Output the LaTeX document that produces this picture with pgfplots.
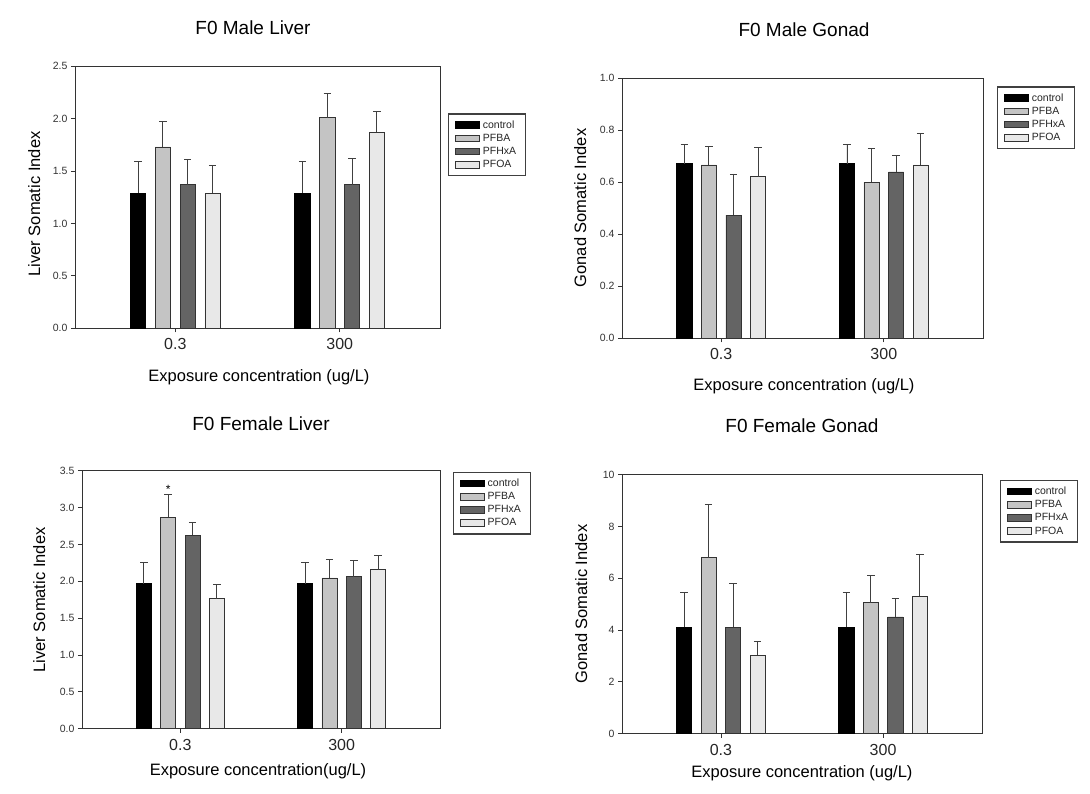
\documentclass[border=0pt]{standalone}
\usepackage{pgfplots}
\pgfplotsset{compat=1.18}
\usepackage{fontspec}
\setmainfont{Liberation Sans}
\definecolor{cPFBA}{HTML}{C4C4C4}
\definecolor{cPFHxA}{HTML}{646464}
\definecolor{cPFOA}{HTML}{E8E8E8}
\definecolor{axisgray}{HTML}{333333}
\pgfplotsset{
  panel/.style={
    scale only axis,
    ybar,
    bar width=0.093,
    xmin=0.39, xmax=2.61,
    ymin=0,
    xtick={1,2},
    xticklabels={0.3,300},
    tick pos=left,
    tick align=outside,
    major tick length=4pt,
    axis line style={axisgray, line width=0.9pt},
    every tick/.style={axisgray, line width=0.8pt},
    yticklabel style={font=\fontsize{10.5}{12}\selectfont, text=black!80},
    xticklabel style={font=\fontsize{16}{18}\selectfont, text=black!85, yshift=-3pt},
    /pgf/number format/assume math mode=true,
    legend cell align=left,
    legend image code/.code={\draw[##1] (0pt,-3.3pt) rectangle (24pt,3.3pt);},
    legend style={draw=black!75, line width=1.2pt, fill=white,
      font=\fontsize{10.5}{12}\selectfont, text=black!85, anchor=north west,
      inner xsep=6.5pt, inner ysep=5pt, row sep=1.4pt,
      nodes={inner xsep=3pt, inner ysep=1.5pt}},
  },
  eb/.style={/pgfplots/error bars/y dir=plus, /pgfplots/error bars/y explicit,
     /pgfplots/error bars/error bar style={color=black!75, line width=0.9pt},
     /pgfplots/error bars/error mark options={rotate=90, color=black!75, line width=0.9pt, mark size=3.7pt}},
  sctl/.style={fill=black, draw=black, line width=0.7pt, bar shift=-0.2265, eb},
  spfba/.style={fill=cPFBA, draw=axisgray, line width=0.7pt, bar shift=-0.0755, eb},
  spfhxa/.style={fill=cPFHxA, draw=axisgray, line width=0.7pt, bar shift=0.0755, eb},
  spfoa/.style={fill=cPFOA, draw=axisgray, line width=0.7pt, bar shift=0.2265, eb},
  fmt1/.style={yticklabel style={/pgf/number format/.cd, fixed, fixed zerofill, precision=1}},
}
\begin{document}
\begin{tikzpicture}
\path[use as bounding box] (0pt,0pt) rectangle (1090pt,794pt);

% ---------- F0 Male Liver ----------
\begin{axis}[panel, fmt1,
  at={(75pt,465.7pt)}, anchor=south west, width=365pt, height=262pt,
  ymax=2.5, ytick={0,0.5,1,1.5,2,2.5},
  legend style={at={(1.022,0.82)}}]
\addplot[sctl] coordinates {(1,1.29) +- (0,0.30) (2,1.29) +- (0,0.30)};
\addplot[spfba] coordinates {(1,1.73) +- (0,0.24) (2,2.01) +- (0,0.23)};
\addplot[spfhxa] coordinates {(1,1.37) +- (0,0.24) (2,1.37) +- (0,0.25)};
\addplot[spfoa] coordinates {(1,1.29) +- (0,0.26) (2,1.87) +- (0,0.20)};
\legend{control,PFBA,PFHxA,PFOA}
\end{axis}
\node[anchor=base, font=\fontsize{19}{22}\selectfont] at (253pt,759pt) {F0 Male Liver};
\node[anchor=base, font=\fontsize{16.5}{19}\selectfont] at (259pt,412pt) {Exposure concentration (ug/L)};
\node[anchor=base, rotate=90, font=\fontsize{16.5}{19}\selectfont] at (40pt,590pt) {Liver Somatic Index};

% ---------- F0 Male Gonad ----------
\begin{axis}[panel, fmt1,
  at={(622pt,455.7pt)}, anchor=south west, width=361pt, height=260pt,
  ymax=1.0, ytick={0,0.2,0.4,0.6,0.8,1.0},
  legend style={at={(1.039,0.969)}}]
\addplot[sctl] coordinates {(1,0.671) +- (0,0.075) (2,0.671) +- (0,0.075)};
\addplot[spfba] coordinates {(1,0.667) +- (0,0.069) (2,0.601) +- (0,0.130)};
\addplot[spfhxa] coordinates {(1,0.474) +- (0,0.158) (2,0.640) +- (0,0.064)};
\addplot[spfoa] coordinates {(1,0.621) +- (0,0.112) (2,0.667) +- (0,0.121)};
\legend{control,PFBA,PFHxA,PFOA}
\end{axis}
\node[anchor=base, font=\fontsize{19}{22}\selectfont] at (804pt,757pt) {F0 Male Gonad};
\node[anchor=base, font=\fontsize{16.5}{19}\selectfont] at (804pt,403pt) {Exposure concentration (ug/L)};
\node[anchor=base, rotate=90, font=\fontsize{16.5}{19}\selectfont] at (586pt,586pt) {Gonad Somatic Index};

% ---------- F0 Female Liver ----------
\begin{axis}[panel, fmt1,
  at={(82pt,65.3pt)}, anchor=south west, width=358pt, height=258pt,
  ymax=3.5, ytick={0,0.5,1,1.5,2,2.5,3,3.5},
  legend style={at={(1.036,0.996)}}]
\addplot[sctl] coordinates {(1,1.965) +- (0,0.289) (2,1.965) +- (0,0.289)};
\addplot[spfba] coordinates {(1,2.870) +- (0,0.308) (2,2.046) +- (0,0.245)};
\addplot[spfhxa] coordinates {(1,2.626) +- (0,0.172) (2,2.064) +- (0,0.218)};
\addplot[spfoa] coordinates {(1,1.766) +- (0,0.190) (2,2.155) +- (0,0.199)};
\legend{control,PFBA,PFHxA,PFOA}
\node[anchor=base, font=\fontsize{12}{14}\selectfont] at (axis cs:0.9245,3.19) {*};
\end{axis}
\node[anchor=base, font=\fontsize{19}{22}\selectfont] at (261pt,363pt) {F0 Female Liver};
\node[anchor=base, font=\fontsize{16.5}{19}\selectfont] at (258pt,18pt) {Exposure concentration(ug/L)};
\node[anchor=base, rotate=90, font=\fontsize{16.5}{19}\selectfont] at (45pt,194pt) {Liver Somatic Index};

% ---------- F0 Female Gonad ----------
\begin{axis}[panel,
  at={(622pt,60.3pt)}, anchor=south west, width=360pt, height=259pt,
  ymax=10, ytick={0,2,4,6,8,10},
  legend style={at={(1.05,0.98)}}]
\addplot[sctl] coordinates {(1,4.11) +- (0,1.33) (2,4.11) +- (0,1.33)};
\addplot[spfba] coordinates {(1,6.79) +- (0,2.07) (2,5.06) +- (0,1.05)};
\addplot[spfhxa] coordinates {(1,4.11) +- (0,1.70) (2,4.51) +- (0,0.71)};
\addplot[spfoa] coordinates {(1,3.03) +- (0,0.52) (2,5.31) +- (0,1.62)};
\legend{control,PFBA,PFHxA,PFOA}
\end{axis}
\node[anchor=base, font=\fontsize{19}{22}\selectfont] at (802pt,361pt) {F0 Female Gonad};
\node[anchor=base, font=\fontsize{16.5}{19}\selectfont] at (802pt,16pt) {Exposure concentration (ug/L)};
\node[anchor=base, rotate=90, font=\fontsize{16.5}{19}\selectfont] at (587pt,190pt) {Gonad Somatic Index};
\end{tikzpicture}
\end{document}
